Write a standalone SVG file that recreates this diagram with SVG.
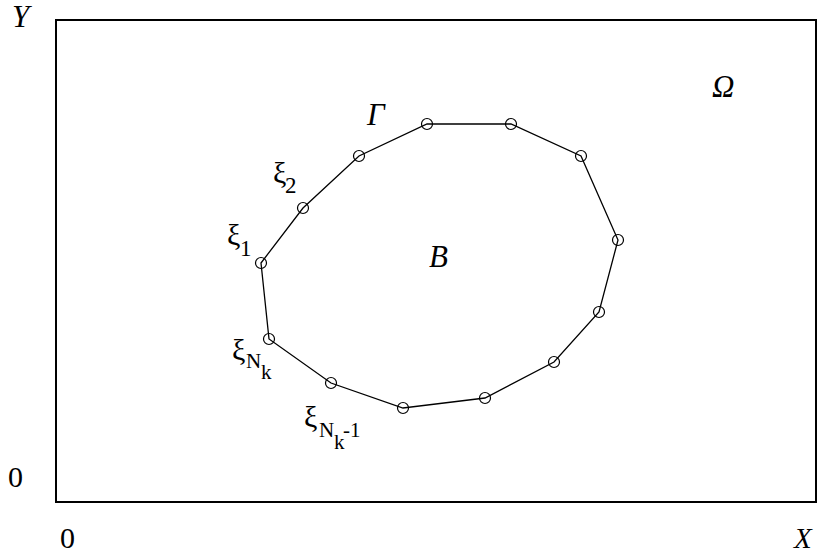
<svg xmlns="http://www.w3.org/2000/svg" width="826" height="557" viewBox="0 0 826 557">
<style>
text{font-family:"Liberation Serif","Times New Roman",serif;fill:#000}
.it{font-style:italic;font-size:31px}
.n{font-size:30px}
.xi{font-size:30px}
.s1{font-size:23px}
.s2{font-size:21px}
.pt{fill:none;stroke:#000;stroke-width:1.2}
</style>
<rect width="826" height="557" fill="#fff"/>
<g id="domain">
<rect x="56" y="20" width="760" height="482" fill="none" stroke="#000" stroke-width="2"/>
</g>
<g id="connectors">
<polygon points="261,263 303,208 359,156 427,124 511,124 581,156 618,240 599,312 554,362 485,398 403,408 331,383 269,339" fill="none" stroke="#000" stroke-width="1.3"/>
</g>
<g id="nodes">
<circle class="pt" cx="261" cy="263" r="5.5"/>
<circle class="pt" cx="303" cy="208" r="5.5"/>
<circle class="pt" cx="359" cy="156" r="5.5"/>
<circle class="pt" cx="427" cy="124" r="5.5"/>
<circle class="pt" cx="511" cy="124" r="5.5"/>
<circle class="pt" cx="581" cy="156" r="5.5"/>
<circle class="pt" cx="618" cy="240" r="5.5"/>
<circle class="pt" cx="599" cy="312" r="5.5"/>
<circle class="pt" cx="554" cy="362" r="5.5"/>
<circle class="pt" cx="485" cy="398" r="5.5"/>
<circle class="pt" cx="403" cy="408" r="5.5"/>
<circle class="pt" cx="331" cy="383" r="5.5"/>
<circle class="pt" cx="269" cy="339" r="5.5"/>
</g>
<g id="labels">
<text class="it" x="12" y="27">Y</text>
<text class="n" x="8" y="487">0</text>
<text class="n" x="60" y="548">0</text>
<text class="it" x="794" y="548" style="font-size:29px">X</text>
<text class="it" x="712" y="97">Ω</text>
<text class="it" x="367" y="125">Γ</text>
<text class="it" x="429" y="267">B</text>
<text class="xi" x="227" y="245">ξ</text><text class="s1" x="240" y="256">1</text>
<text class="xi" x="273" y="183">ξ</text><text class="s1" x="285" y="193">2</text>
<text class="xi" x="232" y="360">ξ</text><text class="s2" x="246" y="368">N</text><text class="s2" x="261" y="379">k</text>
<text class="xi" x="304" y="427">ξ</text><text class="s2" x="319" y="437">N</text><text class="s2" x="334" y="449">k</text><text class="s2" x="343" y="437">-1</text>
</g>
</svg>
